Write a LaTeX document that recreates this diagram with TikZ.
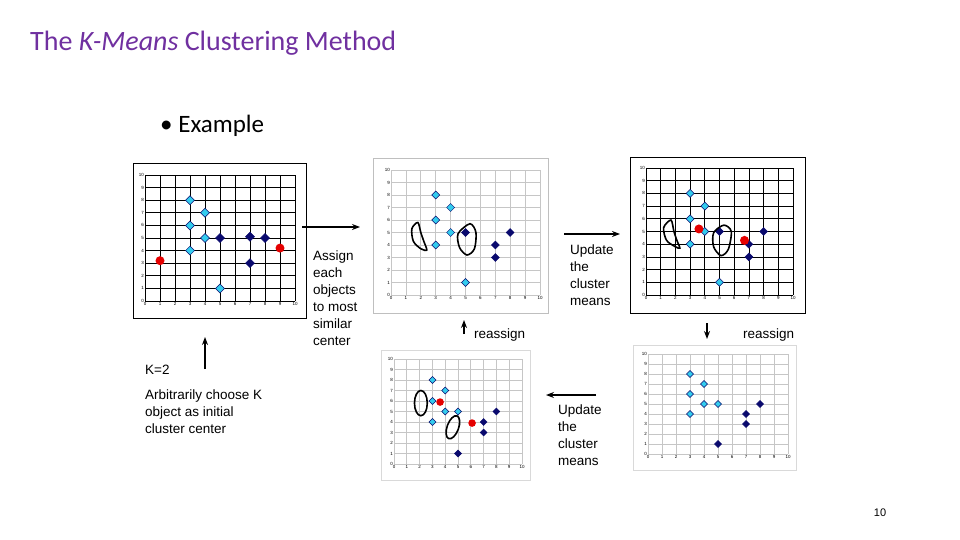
\documentclass[tikz,border=0pt]{standalone}
\usepackage{fontspec}
\setmainfont{Liberation Sans}
\newfontfamily\calib{Carlito}
\usetikzlibrary{arrows.meta}
\definecolor{lb}{HTML}{33CCEE}
\definecolor{db}{HTML}{0A0A6E}
\definecolor{ttl}{HTML}{7030A0}
\tikzset{
  lt/.style={fill=lb,draw=db,line width=0.5pt},
  dk/.style={fill=db,draw=db},
  rd/.style={fill=red!90!black},
  conn/.style={-{Stealth[length=8pt,width=6pt]},line width=1.3pt},
  body/.style={align=left,anchor=north west,font=\fontsize{13.5}{17}\selectfont,inner sep=0pt},
  loop/.style={line width=1.6pt,black},
  ax/.style={font=\fontsize{4.5}{5}\selectfont,inner sep=1pt}
}
\newcommand\mygrid[2]{%
  \foreach \i in {0,...,10}{\draw[#1,line width=#2] (\i,0) -- (\i,10); \draw[#1,line width=#2] (0,\i) -- (10,\i);
    \node[ax,anchor=north] (tx\i) at (\i,0) {\i}; \node[ax,anchor=east] (ty\i) at (0,\i) {\i};}}
\newcommand\dia[3]{\path[#1] (#2,#3) ++(0pt,\ds) -- ++(\ds,-\ds) -- ++(-\ds,-\ds) -- ++(-\ds,\ds) -- cycle;}
\newcommand\red[2]{\fill[rd] (#1,#2) circle (4.5pt);}
\def\ds{4pt}
\begin{document}
\begin{tikzpicture}[x=1pt,y=-1pt]
\useasboundingbox[fill=white] (0,0) rectangle (960,540);
\node[anchor=west,font=\calib\fontsize{28}{32}\selectfont,text=ttl,inner sep=0pt] (title) at (30,43) {The \textit{K-Means} Clustering Method};
\node[anchor=west,font=\calib\fontsize{25}{28}\selectfont,inner sep=0pt] (ex) at (160,126) {\textbullet\ Example};

% chart 1
\draw[black,line width=0.6pt] (133,163) rectangle (306,318);
\begin{scope}[shift={(145,301)},x=15pt,y=12.6pt]
\mygrid{black}{0.9pt}
\def\ds{4.5pt}
\foreach \a/\b in {3/8,4/7,3/6,4/5,3/4,5/1}{\dia{lt}{\a}{\b}}
\foreach \a/\b in {5/5,7/5.1,8/5,7/3}{\dia{dk}{\a}{\b}}
\red{1}{3.2}\red{9}{4.2}
\end{scope}

% chart 2
\draw[gray!50,line width=0.6pt] (373,158) rectangle (548,313);
\begin{scope}[shift={(391,295)},x=14.9pt,y=12.5pt]
\mygrid{gray!45}{0.8pt}
\foreach \a/\b in {3/8,4/7,3/6,4/5,3/4,5/1}{\dia{lt}{\a}{\b}}
\foreach \a/\b in {5/5,7/4,7/3,8/5}{\dia{dk}{\a}{\b}}
\draw[loop] plot[smooth cycle] coordinates {(1.8,5.8) (2.0,5) (2.2,4.3) (2.4,3.6) (2,3.7) (1.5,4.3) (1.4,5.3)};
\draw[loop] plot[smooth cycle] coordinates {(5.3,5.7) (5.7,5) (5.6,3.7) (5.1,3.2) (4.6,3.8) (4.5,4.9)};
\end{scope}

% chart 3
\draw[black,line width=0.6pt] (630,157) rectangle (805,313);
\begin{scope}[shift={(646,295)},x=14.7pt,y=12.7pt]
\mygrid{black}{0.8pt}
\foreach \a/\b in {3/8,4/7,3/6,4/5,3/4,5/1}{\dia{lt}{\a}{\b}}
\foreach \a/\b in {5/5,7/4,7/3,8/5}{\dia{dk}{\a}{\b}}
\red{3.6}{5.2}\red{6.7}{4.3}
\draw[loop] plot[smooth cycle] coordinates {(1.7,5.9) (1.9,5) (2.1,4.3) (2.3,3.7) (2,3.8) (1.4,4.3) (1.2,5.3)};
\draw[loop] plot[smooth cycle] coordinates {(5.3,5.5) (5.8,5) (5.6,3.6) (5.1,3.1) (4.6,3.8) (4.6,4.9)};
\end{scope}

% chart 4
\draw[gray!30,line width=0.6pt] (381,350) rectangle (530,480);
\begin{scope}[shift={(394,464)},x=12.8pt,y=10.5pt]
\mygrid{gray!45}{0.8pt}
\def\ds{3.5pt}
\foreach \a/\b in {3/8,4/7,3/6,4/5,5/5,3/4}{\dia{lt}{\a}{\b}}
\foreach \a/\b in {5/1,7/4,7/3,8/5}{\dia{dk}{\a}{\b}}
\fill[rd] (3.6,5.9) circle (3.8pt); \fill[rd] (6.1,3.9) circle (3.8pt);
\draw[loop] (2.1,5.8) ellipse [x radius=0.5, y radius=1.2];
\draw[loop,rotate around={-20:(4.6,3.5)}] (4.6,3.5) ellipse [x radius=0.45, y radius=1.15];
\end{scope}

% chart 5
\draw[gray!30,line width=0.6pt] (633,345) rectangle (796,470);
\begin{scope}[shift={(648,454)},x=14pt,y=10pt]
\mygrid{gray!45}{0.8pt}
\def\ds{3.5pt}
\foreach \a/\b in {3/8,4/7,3/6,4/5,5/5,3/4}{\dia{lt}{\a}{\b}}
\foreach \a/\b in {5/1,7/4,7/3,8/5}{\dia{dk}{\a}{\b}}
\end{scope}

% arrows
\coordinate (a1s) at (302,227); \coordinate (a1e) at (360,227);
\draw[conn] (a1s) -- (a1e);
\node[body] (t1) at (313,251) {Assign\\each\\objects\\to most\\similar\\center};
\coordinate (a2s) at (564,234); \coordinate (a2e) at (620,234);
\draw[conn] (a2s) -- (a2e);
\node[body] (t2) at (570,245) {Update\\the\\cluster\\means};
\coordinate (a3s) at (464,334); \coordinate (a3e) at (464,320);
\draw[conn] (a3s) -- (a3e);
\node[body] (t3) at (474,329) {reassign};
\coordinate (a4s) at (707,323); \coordinate (a4e) at (707,339);
\draw[conn] (a4s) -- (a4e);
\node[body] (t4) at (743,329) {reassign};
\coordinate (a5s) at (596,395); \coordinate (a5e) at (546,395);
\draw[conn] (a5s) -- (a5e);
\node[body] (t5) at (558,405) {Update\\the\\cluster\\means};
\coordinate (a6s) at (205,369); \coordinate (a6e) at (205,337);
\draw[conn] (a6s) -- (a6e);
\node[body] (t6) at (145,365) {K=2};
\node[body] (t7) at (145,390) {Arbitrarily choose K\\object as initial\\cluster center};
\node[anchor=center,font=\fontsize{11}{13}\selectfont] (pg) at (880,513) {10};
\end{tikzpicture}
\end{document}
